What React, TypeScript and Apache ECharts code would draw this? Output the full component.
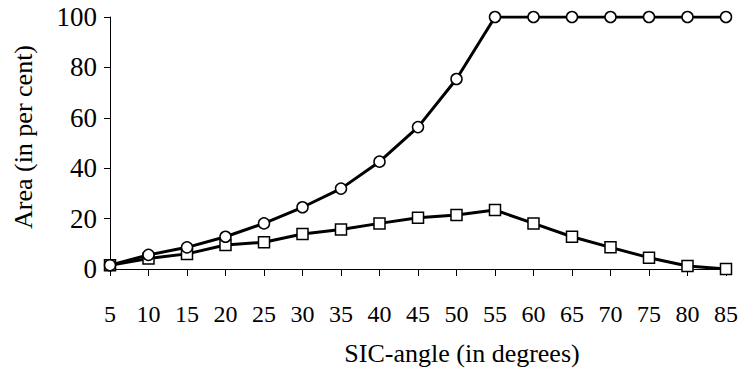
import React, { useEffect, useRef } from "react";
import * as echarts from "echarts";

const angles = [5, 10, 15, 20, 25, 30, 35, 40, 45, 50, 55, 60, 65, 70, 75, 80, 85];
const circleValues = [1.5, 5.6, 8.6, 12.8, 18.1, 24.5, 31.9, 42.6, 56.3, 75.4, 100, 100, 100, 100, 100, 100, 100];
const squareValues = [1.5, 4.2, 6.0, 9.5, 10.6, 13.9, 15.7, 18.1, 20.3, 21.4, 23.4, 18.1, 12.8, 8.6, 4.5, 1.2, 0];
const yTicks = { min: 0, max: 100, interval: 20 };
const xTicks = { min: 5, max: 85, interval: 5 };
const xTitle = "SIC-angle (in degrees)";
const yTitle = "Area (in per cent)";

const FONT = '"Liberation Serif", "DejaVu Serif", "Times New Roman", serif';

export default function App() {
  const ref = useRef<HTMLDivElement>(null);
  useEffect(() => {
    if (!ref.current) return;
    const chart = echarts.init(ref.current, undefined, { renderer: "svg" });
    const pair = (vals: number[]) => angles.map((a, i) => [a, vals[i]]);
    chart.setOption({
      animation: false,
      backgroundColor: "#ffffff",
      textStyle: { fontFamily: FONT, color: "#000" },
      grid: { left: 110, right: 14, top: 17, bottom: 100, containLabel: false },
      graphic: [
        {
          type: "text",
          x: 462,
          y: 353,
          style: {
            text: xTitle,
            fontFamily: FONT,
            fontSize: 26,
            fill: "#000",
            align: "center",
            verticalAlign: "middle",
          },
          silent: true,
        },
        {
          type: "text",
          x: 23,
          y: 137,
          rotation: Math.PI / 2,
          style: {
            text: yTitle,
            fontFamily: FONT,
            fontSize: 26,
            fill: "#000",
            align: "center",
            verticalAlign: "middle",
          },
          silent: true,
        },
      ],
      xAxis: {
        type: "value",
        min: xTicks.min,
        max: xTicks.max,
        interval: xTicks.interval,
        axisLine: { show: true, lineStyle: { color: "#000", width: 1 } },
        axisTick: { show: true, length: 7, lineStyle: { color: "#000", width: 1 } },
        axisLabel: { fontFamily: FONT, fontSize: 24, color: "#000", margin: 33 },
        splitLine: { show: false },
      },
      yAxis: {
        type: "value",
        min: yTicks.min,
        max: yTicks.max,
        interval: yTicks.interval,
        axisLine: { show: true, lineStyle: { color: "#000", width: 1 } },
        axisTick: { show: true, length: 6, lineStyle: { color: "#000", width: 1 } },
        axisLabel: { fontFamily: FONT, fontSize: 27, color: "#000", margin: 13 },
        splitLine: { show: false },
      },
      series: [
        {
          type: "line",
          data: pair(squareValues),
          symbol: "rect",
          symbolSize: 11,
          showAllSymbol: true,
          lineStyle: { color: "#000", width: 3 },
          itemStyle: { color: "#fff", borderColor: "#000", borderWidth: 1.5 },
          emphasis: { disabled: true },
          silent: true,
          z: 2,
        },
        {
          type: "line",
          data: pair(circleValues),
          symbol: "circle",
          symbolSize: 11,
          showAllSymbol: true,
          lineStyle: { color: "#000", width: 3 },
          itemStyle: { color: "#fff", borderColor: "#000", borderWidth: 1.5 },
          emphasis: { disabled: true },
          silent: true,
          z: 3,
        },
      ],
    });
    return () => chart.dispose();
  }, []);
  return <div ref={ref} style={{ width: 741, height: 369, position: "absolute", left: 0, top: 0 }} />;
}
